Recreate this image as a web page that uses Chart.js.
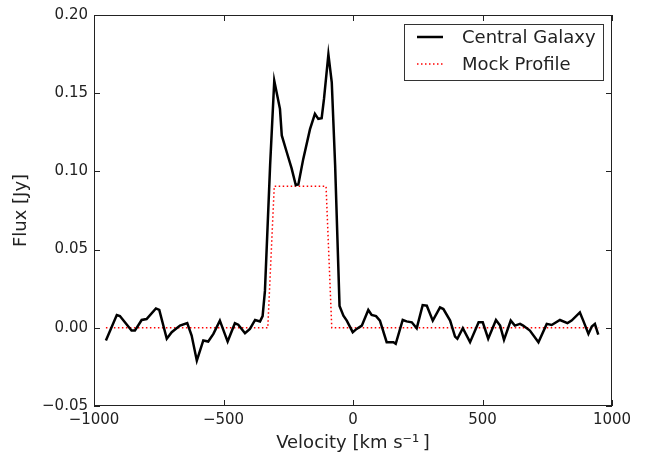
<!DOCTYPE html>
<html>
<head>
<meta charset="utf-8">
<script src="https://cdn.jsdelivr.net/npm/chart.js@4/dist/chart.umd.min.js"></script>
<style>
  body { margin: 0; background: #fff; }
</style>
</head>
<body>
<canvas id="myChart" width="660" height="460"></canvas>
<script>
// Central Galaxy spectrum
const velocity = [-954, -912, -900, -855, -842, -816, -797, -761, -748, -719, -700, -668, -640, -623, -603,
    -578, -559, -539, -514, -484, -456, -443, -417, -398, -378, -359, -349, -340, -320, -304, -282, -275,
    -256, -237, -221, -211, -192, -166, -147, -134, -121, -112, -95, -82, -69, -52, -37, -24, -1, 14, 34,
    59, 72, 89, 104, 130, 156, 165, 192, 207, 227, 246, 269, 285, 308, 336, 349, 375, 394, 403, 424, 452,
    485, 501, 522, 552, 568, 583, 609, 625, 645, 657, 683, 716, 748, 767, 799, 828, 844, 876, 889, 909,
    922, 934, 947]
const flux = [-0.0081, 0.0082, 0.0075, -0.0018, -0.0018, 0.005, 0.0056, 0.0124, 0.0114, -0.007, -0.0028,
    0.0014, 0.003, -0.005, -0.021, -0.0081, -0.0088, -0.0039, 0.0046, -0.0088, 0.0029, 0.002, -0.0035,
    -0.0007, 0.005, 0.0041, 0.0075, 0.0236, 0.104, 0.158, 0.140, 0.123, 0.1124, 0.1019, 0.0913, 0.0917,
    0.108, 0.127, 0.1368, 0.1336, 0.134, 0.1463, 0.1748, 0.157, 0.104, 0.014, 0.0077, 0.0046, -0.0028,
    -0.0007, 0.0014, 0.0114, 0.0082, 0.0075, 0.0046, -0.0092, -0.0092, -0.0102, 0.005, 0.0041, 0.0035,
    -0.0003, 0.0145, 0.0141, 0.0046, 0.013, 0.012, 0.0046, -0.0056, -0.007, -0.0003, -0.0092, 0.0035,
    0.0035, -0.007, 0.005, 0.0014, -0.0077, 0.0046, 0.0014, 0.0025, 0.0014, -0.0018, -0.0092, 0.0025,
    0.0018, 0.005, 0.003, 0.0046, 0.0098, 0.0046, -0.0039, 0.0008, 0.0025, -0.0043]

// Mock profile (box shape)
const mockVelocity = [-954, -329, -304, -104, -82, 950]
const mockFlux = [0, 0, 0.0905, 0.0905, 0, 0]

const xTicks = [-1000, -500, 0, 500, 1000]
const yTicks = [-0.05, 0.00, 0.05, 0.10, 0.15, 0.20]

const FONT = 'DejaVu Sans'
const minus = s => String(s).replace('-', '\u2212')

const toPoints = (xs, ys) => xs.map((x, i) => ({ x: x, y: ys[i] }))

// frame, inward ticks on all four sides
const frame = {
    id: 'frame',
    afterDatasetsDraw(chart) {
        const { ctx, chartArea: a, scales } = chart
        ctx.save()
        ctx.strokeStyle = '#222'
        ctx.lineWidth = 1
        ctx.strokeRect(a.left + 0.5, a.top + 0.5, a.right - a.left - 1, a.bottom - a.top - 1)
        ctx.beginPath()
        xTicks.forEach(v => {
            const px = Math.round(scales.x.getPixelForValue(v)) + 0.5
            ctx.moveTo(px, a.bottom); ctx.lineTo(px, a.bottom - 6)
            ctx.moveTo(px, a.top); ctx.lineTo(px, a.top + 6)
        })
        yTicks.forEach(v => {
            const py = Math.round(scales.y.getPixelForValue(v)) + 0.5
            ctx.moveTo(a.left, py); ctx.lineTo(a.left + 6, py)
            ctx.moveTo(a.right, py); ctx.lineTo(a.right - 6, py)
        })
        ctx.stroke()
        ctx.restore()
    }
}

// matplotlib style legend box, upper right inside the axes
const boxLegend = {
    id: 'boxLegend',
    afterDraw(chart) {
        const { ctx, chartArea: a } = chart
        const w = 199, h = 56
        const x0 = a.right - 9 - w, y0 = a.top + 9
        ctx.save()
        ctx.fillStyle = '#fff'
        ctx.fillRect(x0, y0, w, h)
        ctx.strokeStyle = '#333'
        ctx.lineWidth = 1
        ctx.strokeRect(x0 + 0.5, y0 + 0.5, w, h)
        chart.data.datasets.forEach((ds, i) => {
            const y = y0 + 13 + i * 27
            ctx.beginPath()
            ctx.strokeStyle = ds.borderColor
            ctx.lineWidth = ds.borderWidth
            ctx.setLineDash(ds.borderDash || [])
            ctx.moveTo(x0 + 13, y)
            ctx.lineTo(x0 + 39, y)
            ctx.stroke()
            ctx.setLineDash([])
            ctx.fillStyle = '#222'
            ctx.font = '18px "' + FONT + '"'
            ctx.textBaseline = 'middle'
            ctx.fillText(ds.label, x0 + 58, y + 1)
        })
        ctx.restore()
    }
}

const ctx = document.getElementById('myChart')

const data = {
    datasets: [{
        label: 'Central Galaxy',
        data: toPoints(velocity, flux),
        borderColor: '#000',
        borderWidth: 2.5,
        pointRadius: 0,
        tension: 0
    }, {
        label: 'Mock Profile',
        data: toPoints(mockVelocity, mockFlux),
        borderColor: '#ff0000',
        borderWidth: 1.5,
        borderDash: [1.5, 2.5],
        pointRadius: 0,
        tension: 0
    }]
}

const config = {
    type: 'line',
    data: data,
    options: {
        responsive: false,
        animation: false,
        layout: { padding: { left: 0, right: 48, top: 12, bottom: 0 } },
        plugins: { legend: { display: false }, tooltip: { enabled: false } },
        scales: {
            x: {
                type: 'linear',
                min: -1000,
                max: 1000,
                afterBuildTicks: s => { s.ticks = xTicks.map(v => ({ value: v })) },
                afterFit: s => { s.height = 54 },
                grid: { display: false, drawTicks: false },
                border: { display: false },
                ticks: {
                    padding: 5,
                    color: '#222',
                    font: { family: FONT, size: 15 },
                    maxRotation: 0,
                    callback: v => minus(v)
                },
                title: {
                    display: true,
                    text: 'Velocity [km s\u207B\u00B9\u2009]',
                    color: '#222',
                    font: { family: FONT, size: 18 },
                    padding: { top: 0, bottom: 6 }
                }
            },
            y: {
                type: 'linear',
                min: -0.05,
                max: 0.20,
                afterBuildTicks: s => { s.ticks = yTicks.map(v => ({ value: v })) },
                afterFit: s => { s.width = 94 },
                grid: { display: false, drawTicks: false },
                border: { display: false },
                ticks: {
                    padding: 6,
                    color: '#222',
                    font: { family: FONT, size: 15 },
                    callback: v => minus(v.toFixed(2))
                },
                title: {
                    display: true,
                    text: 'Flux [Jy]',
                    color: '#222',
                    font: { family: FONT, size: 18 },
                    padding: { top: 11, bottom: 0 }
                }
            }
        }
    },
    plugins: [frame, boxLegend]
}

const myChart = new Chart(ctx, config)
</script>
</body>
</html>
